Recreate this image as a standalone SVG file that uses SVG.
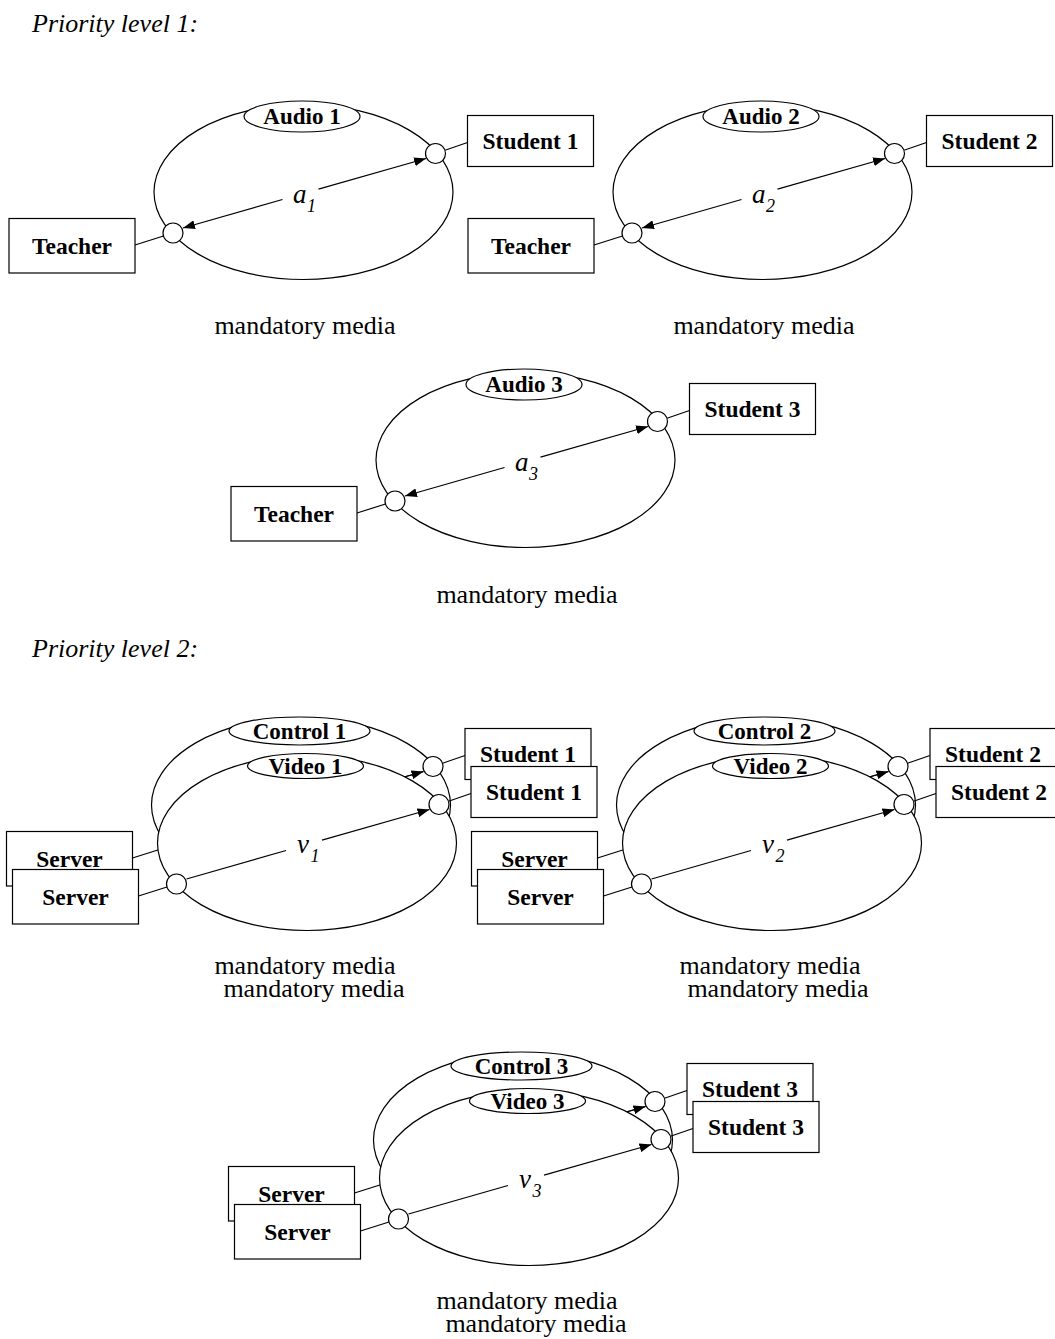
<svg xmlns="http://www.w3.org/2000/svg" width="1055" height="1339" viewBox="0 0 1055 1339">
<style>
  text { font-family: "Liberation Serif", "Times New Roman", serif; fill: #000; }
  .heading { font-size: 26px; font-style: italic; }
  .caption { font-size: 26px; text-anchor: middle; }
  .boxtxt { font-size: 23.5px; font-weight: bold; text-anchor: middle; }
  .tagtxt { font-size: 23px; font-weight: bold; text-anchor: middle; }
  .sym { font-size: 27px; font-style: italic; }
  .sub { font-size: 18px; font-style: italic; }
  .stream, .tag, .port, .box { fill: #fff; stroke: #000; stroke-width: 1.2; }
  .link, .arrow { fill: none; stroke: #000; stroke-width: 1.2; }
  .arrow.head { marker-end: url(#tip); }
</style>
<defs>
  <marker id="tip" viewBox="0 0 12 9" refX="12" refY="4.5" markerWidth="12" markerHeight="9" markerUnits="userSpaceOnUse" orient="auto">
    <path d="M0,0 L12,4.5 L0,9 z" fill="#000"/>
  </marker>
</defs>

<rect width="1055" height="1339" fill="#fff"/>

<text class="heading" x="32" y="32">Priority level 1:</text>
<text class="heading" x="32" y="657">Priority level 2:</text>

<!-- Priority level 1: audio sessions -->
<g id="audio1" transform="translate(303.5,192)">
  <g id="audio1-stream"><ellipse class="stream" rx="149.5" ry="87.5"/></g>
  <g class="connectors">
    <path class="arrow head" d="M-21,7.5 L-120.5,36"/>
    <path class="arrow head" d="M15,-2.8 L122.5,-33.5"/>
    <path class="link" d="M-168.5,53 L-140,44"/>
    <path class="link" d="M141.5,-41.8 L164,-49.5"/>
  </g>
  <text class="sym" x="-10.5" y="11">a<tspan class="sub" x="3.5" y="20">1</tspan></text>
  <g id="audio1-tag"><ellipse class="tag" cx="-1.5" cy="-75.5" rx="58" ry="15.5"/><text class="tagtxt" x="-1.5" y="-68.5">Audio 1</text></g>
  <g id="audio1-port-student"><circle class="port" cx="132" cy="-38.5" r="10"/></g>
  <g id="audio1-port-teacher"><circle class="port" cx="-130.5" cy="41" r="10"/></g>
  <g id="audio1-student"><rect class="box" x="164" y="-76.5" width="126" height="51"/><text class="boxtxt" x="227" y="-43.5">Student 1</text></g>
  <g id="audio1-teacher"><rect class="box" x="-294.5" y="26.5" width="126" height="54.5"/><text class="boxtxt" x="-231.5" y="61.5">Teacher</text></g>
</g>
<text class="caption" x="305" y="334">mandatory media</text>

<g id="audio2" transform="translate(762.5,192)">
  <g id="audio2-stream"><ellipse class="stream" rx="149.5" ry="87.5"/></g>
  <g class="connectors">
    <path class="arrow head" d="M-21,7.5 L-120.5,36"/>
    <path class="arrow head" d="M15,-2.8 L122.5,-33.5"/>
    <path class="link" d="M-168.5,53 L-140,44"/>
    <path class="link" d="M141.5,-41.8 L164,-49.5"/>
  </g>
  <text class="sym" x="-10.5" y="11">a<tspan class="sub" x="3.5" y="20">2</tspan></text>
  <g id="audio2-tag"><ellipse class="tag" cx="-1.5" cy="-75.5" rx="58" ry="15.5"/><text class="tagtxt" x="-1.5" y="-68.5">Audio 2</text></g>
  <g id="audio2-port-student"><circle class="port" cx="132" cy="-38.5" r="10"/></g>
  <g id="audio2-port-teacher"><circle class="port" cx="-130.5" cy="41" r="10"/></g>
  <g id="audio2-student"><rect class="box" x="164" y="-76.5" width="126" height="51"/><text class="boxtxt" x="227" y="-43.5">Student 2</text></g>
  <g id="audio2-teacher"><rect class="box" x="-294.5" y="26.5" width="126" height="54.5"/><text class="boxtxt" x="-231.5" y="61.5">Teacher</text></g>
</g>
<text class="caption" x="764" y="334">mandatory media</text>

<g id="audio3" transform="translate(525.5,460)">
  <g id="audio3-stream"><ellipse class="stream" rx="149.5" ry="87.5"/></g>
  <g class="connectors">
    <path class="arrow head" d="M-21,7.5 L-120.5,36"/>
    <path class="arrow head" d="M15,-2.8 L122.5,-33.5"/>
    <path class="link" d="M-168.5,53 L-140,44"/>
    <path class="link" d="M141.5,-41.8 L164,-49.5"/>
  </g>
  <text class="sym" x="-10.5" y="11">a<tspan class="sub" x="3.5" y="20">3</tspan></text>
  <g id="audio3-tag"><ellipse class="tag" cx="-1.5" cy="-75.5" rx="58" ry="15.5"/><text class="tagtxt" x="-1.5" y="-68.5">Audio 3</text></g>
  <g id="audio3-port-student"><circle class="port" cx="132" cy="-38.5" r="10"/></g>
  <g id="audio3-port-teacher"><circle class="port" cx="-130.5" cy="41" r="10"/></g>
  <g id="audio3-student"><rect class="box" x="164" y="-76.5" width="126" height="51"/><text class="boxtxt" x="227" y="-43.5">Student 3</text></g>
  <g id="audio3-teacher"><rect class="box" x="-294.5" y="26.5" width="126" height="54.5"/><text class="boxtxt" x="-231.5" y="61.5">Teacher</text></g>
</g>
<text class="caption" x="527" y="603">mandatory media</text>

<!-- Priority level 2: control session behind, video session in front -->
<g id="control1" transform="translate(301,805)">
  <g id="control1-stream"><ellipse class="stream" rx="149.5" ry="87.5"/></g>
  <g class="connectors">
    <path class="arrow" d="M-120.5,36 L122.5,-33.5"/>
    <path class="arrow head" d="M15,-2.8 L122.5,-33.5"/>
    <path class="link" d="M-168.5,53 L-140,44"/>
    <path class="link" d="M141.5,-41.8 L164,-49.5"/>
  </g>
  <g id="control1-tag"><ellipse class="tag" cx="-1.5" cy="-74" rx="70.5" ry="14"/><text class="tagtxt" x="-1.5" y="-66.5">Control 1</text></g>
  <g id="control1-port-student"><circle class="port" cx="132" cy="-38.5" r="10"/></g>
  <g id="control1-port-server"><circle class="port" cx="-130.5" cy="41" r="10"/></g>
  <g id="control1-student"><rect class="box" x="164" y="-76.5" width="126" height="51"/><text class="boxtxt" x="227" y="-43.5">Student 1</text></g>
  <g id="control1-server"><rect class="box" x="-294.5" y="26.5" width="126" height="54.5"/><text class="boxtxt" x="-231.5" y="61.5">Server</text></g>
</g>
<g id="video1" transform="translate(307,843)">
  <g id="video1-stream"><ellipse class="stream" rx="149.5" ry="87.5"/></g>
  <g class="connectors">
    <path class="arrow" d="M-120.5,36 L-21,7.5"/>
    <path class="arrow head" d="M15,-2.8 L122.5,-33.5"/>
    <path class="link" d="M-168.5,53 L-140,44"/>
    <path class="link" d="M141.5,-41.8 L164,-49.5"/>
  </g>
  <text class="sym" x="-10" y="10">v<tspan class="sub" x="3.5" y="19">1</tspan></text>
  <g id="video1-tag"><ellipse class="tag" cx="-1.5" cy="-77" rx="58" ry="12.5"/><text class="tagtxt" x="-1.5" y="-69.5">Video 1</text></g>
  <g id="video1-port-student"><circle class="port" cx="132" cy="-38.5" r="10"/></g>
  <g id="video1-port-server"><circle class="port" cx="-130.5" cy="41" r="10"/></g>
  <g id="video1-student"><rect class="box" x="164" y="-76.5" width="126" height="51"/><text class="boxtxt" x="227" y="-43.5">Student 1</text></g>
  <g id="video1-server"><rect class="box" x="-294.5" y="26.5" width="126" height="54.5"/><text class="boxtxt" x="-231.5" y="61.5">Server</text></g>
</g>
<text class="caption" x="305" y="974">mandatory media</text>
<text class="caption" x="314" y="997">mandatory media</text>

<g id="control2" transform="translate(766,805)">
  <g id="control2-stream"><ellipse class="stream" rx="149.5" ry="87.5"/></g>
  <g class="connectors">
    <path class="arrow" d="M-120.5,36 L122.5,-33.5"/>
    <path class="arrow head" d="M15,-2.8 L122.5,-33.5"/>
    <path class="link" d="M-168.5,53 L-140,44"/>
    <path class="link" d="M141.5,-41.8 L164,-49.5"/>
  </g>
  <g id="control2-tag"><ellipse class="tag" cx="-1.5" cy="-74" rx="70.5" ry="14"/><text class="tagtxt" x="-1.5" y="-66.5">Control 2</text></g>
  <g id="control2-port-student"><circle class="port" cx="132" cy="-38.5" r="10"/></g>
  <g id="control2-port-server"><circle class="port" cx="-130.5" cy="41" r="10"/></g>
  <g id="control2-student"><rect class="box" x="164" y="-76.5" width="126" height="51"/><text class="boxtxt" x="227" y="-43.5">Student 2</text></g>
  <g id="control2-server"><rect class="box" x="-294.5" y="26.5" width="126" height="54.5"/><text class="boxtxt" x="-231.5" y="61.5">Server</text></g>
</g>
<g id="video2" transform="translate(772,843)">
  <g id="video2-stream"><ellipse class="stream" rx="149.5" ry="87.5"/></g>
  <g class="connectors">
    <path class="arrow" d="M-120.5,36 L-21,7.5"/>
    <path class="arrow head" d="M15,-2.8 L122.5,-33.5"/>
    <path class="link" d="M-168.5,53 L-140,44"/>
    <path class="link" d="M141.5,-41.8 L164,-49.5"/>
  </g>
  <text class="sym" x="-10" y="10">v<tspan class="sub" x="3.5" y="19">2</tspan></text>
  <g id="video2-tag"><ellipse class="tag" cx="-1.5" cy="-77" rx="58" ry="12.5"/><text class="tagtxt" x="-1.5" y="-69.5">Video 2</text></g>
  <g id="video2-port-student"><circle class="port" cx="132" cy="-38.5" r="10"/></g>
  <g id="video2-port-server"><circle class="port" cx="-130.5" cy="41" r="10"/></g>
  <g id="video2-student"><rect class="box" x="164" y="-76.5" width="126" height="51"/><text class="boxtxt" x="227" y="-43.5">Student 2</text></g>
  <g id="video2-server"><rect class="box" x="-294.5" y="26.5" width="126" height="54.5"/><text class="boxtxt" x="-231.5" y="61.5">Server</text></g>
</g>
<text class="caption" x="770" y="974">mandatory media</text>
<text class="caption" x="778" y="997">mandatory media</text>

<g id="control3" transform="translate(523,1140)">
  <g id="control3-stream"><ellipse class="stream" rx="149.5" ry="87.5"/></g>
  <g class="connectors">
    <path class="arrow" d="M-120.5,36 L122.5,-33.5"/>
    <path class="arrow head" d="M15,-2.8 L122.5,-33.5"/>
    <path class="link" d="M-168.5,53 L-140,44"/>
    <path class="link" d="M141.5,-41.8 L164,-49.5"/>
  </g>
  <g id="control3-tag"><ellipse class="tag" cx="-1.5" cy="-74" rx="70.5" ry="14"/><text class="tagtxt" x="-1.5" y="-66.5">Control 3</text></g>
  <g id="control3-port-student"><circle class="port" cx="132" cy="-38.5" r="10"/></g>
  <g id="control3-port-server"><circle class="port" cx="-130.5" cy="41" r="10"/></g>
  <g id="control3-student"><rect class="box" x="164" y="-76.5" width="126" height="51"/><text class="boxtxt" x="227" y="-43.5">Student 3</text></g>
  <g id="control3-server"><rect class="box" x="-294.5" y="26.5" width="126" height="54.5"/><text class="boxtxt" x="-231.5" y="61.5">Server</text></g>
</g>
<g id="video3" transform="translate(529,1178)">
  <g id="video3-stream"><ellipse class="stream" rx="149.5" ry="87.5"/></g>
  <g class="connectors">
    <path class="arrow" d="M-120.5,36 L-21,7.5"/>
    <path class="arrow head" d="M15,-2.8 L122.5,-33.5"/>
    <path class="link" d="M-168.5,53 L-140,44"/>
    <path class="link" d="M141.5,-41.8 L164,-49.5"/>
  </g>
  <text class="sym" x="-10" y="10">v<tspan class="sub" x="3.5" y="19">3</tspan></text>
  <g id="video3-tag"><ellipse class="tag" cx="-1.5" cy="-77" rx="58" ry="12.5"/><text class="tagtxt" x="-1.5" y="-69.5">Video 3</text></g>
  <g id="video3-port-student"><circle class="port" cx="132" cy="-38.5" r="10"/></g>
  <g id="video3-port-server"><circle class="port" cx="-130.5" cy="41" r="10"/></g>
  <g id="video3-student"><rect class="box" x="164" y="-76.5" width="126" height="51"/><text class="boxtxt" x="227" y="-43.5">Student 3</text></g>
  <g id="video3-server"><rect class="box" x="-294.5" y="26.5" width="126" height="54.5"/><text class="boxtxt" x="-231.5" y="61.5">Server</text></g>
</g>
<text class="caption" x="527" y="1309">mandatory media</text>
<text class="caption" x="536" y="1332">mandatory media</text>
</svg>
